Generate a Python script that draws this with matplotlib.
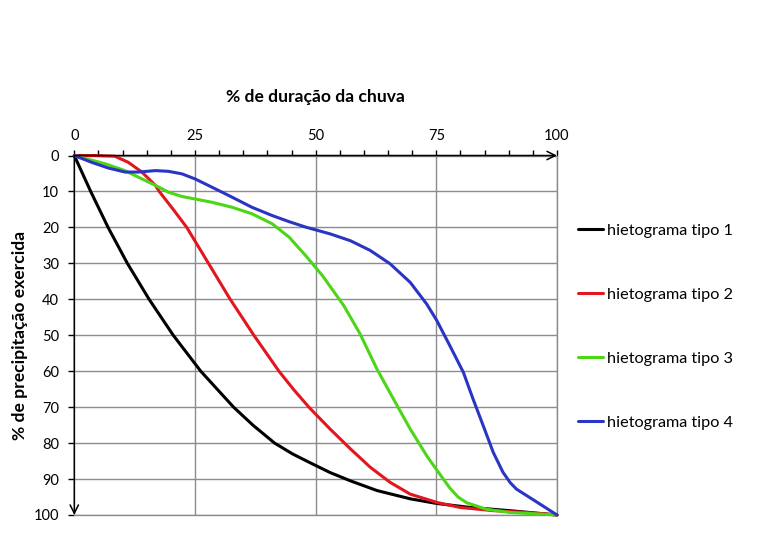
import matplotlib.pyplot as plt
from matplotlib.ticker import MultipleLocator

# % de duração da chuva (x) vs % de precipitação exercida (y)
x_tipo1 = [0, 3.4, 7, 11, 15.5, 20.5, 26.2, 33, 37, 41.5, 45.2, 48.9, 53, 57.2, 62.7, 69.6, 75.1, 82, 90.2, 100]
y_tipo1 = [0, 10, 20, 30, 40, 50, 60, 70, 75, 80, 83, 85.5, 88.2, 90.5, 93.2, 95.5, 96.8, 97.9, 98.8, 100]

x_tipo2 = [0, 4, 8.4, 11.2, 14, 16.8, 17.6, 20.5, 23.3, 27.8, 32.3, 37.2, 42.4, 45.5, 48.6, 53, 57.2,
           61.3, 65.4, 69.6, 75.1, 79.9, 86.8, 93.7, 100]
y_tipo2 = [0, 0, 0.2, 1.9, 4.6, 8.3, 10, 15, 20, 30, 40, 50, 60, 65.2, 70, 76.1, 81.6,
           86.7, 90.9, 94.2, 96.5, 97.9, 98.8, 99.3, 100]

x_tipo3 = [0, 6.4, 10.5, 14, 16.8, 19.5, 22.3, 25, 28.5, 32.7, 36.8, 41, 44.5, 47.9, 51.4, 55.8, 59.2,
           62.7, 66.1, 69.6, 73, 75.1, 77.8, 79.5, 81.3, 85.4, 90.2, 100]
y_tipo3 = [0, 2.3, 4.2, 6.5, 8.3, 10.2, 11.4, 12.1, 13, 14.4, 16.2, 19, 22.7, 27.8, 33.4, 41.7, 49.6,
           59.4, 67.7, 76.1, 83.5, 87.5, 92.5, 95, 96.6, 98.4, 99.3, 100]

x_tipo4 = [0, 3.6, 7.1, 10.5, 13.3, 16.8, 19.5, 22.3, 25, 28.5, 32.7, 36.8, 41, 44.5, 47.9, 53, 57.2,
           61.3, 65.4, 69.6, 73, 75.1, 77.8, 80.6, 82.6, 84.7, 86.8, 88.8, 90.3, 91.6, 95.7, 100]
y_tipo4 = [0, 1.9, 3.5, 4.6, 4.6, 4.2, 4.4, 5.1, 6.5, 8.8, 11.6, 14.4, 16.7, 18.4, 19.9, 21.8, 23.7,
           26.4, 30.1, 35.3, 41.3, 45.9, 52.9, 60.3, 67.7, 75.1, 82.6, 88.1, 91, 92.8, 96.3, 100]

series = [
    ("hietograma tipo 1", x_tipo1, y_tipo1, "#000000"),
    ("hietograma tipo 2", x_tipo2, y_tipo2, "#e3161f"),
    ("hietograma tipo 3", x_tipo3, y_tipo3, "#4cd617"),
    ("hietograma tipo 4", x_tipo4, y_tipo4, "#2a35c4"),
]

plt.rcParams['font.family'] = ['Lato', 'DejaVu Sans']

fig = plt.figure(figsize=(7.65, 5.43), dpi=100)
ax = fig.add_axes([0.0971, 0.0516, 0.631, 0.662])

for name, xs, ys, color in series:
    ax.plot(xs, ys, color=color, lw=2.2, label=name, solid_capstyle='round',
            solid_joinstyle='round', clip_on=False, zorder=3)

ax.set_xlim(0, 100)
ax.set_ylim(100, 0)

ax.xaxis.set_major_locator(MultipleLocator(25))
ax.xaxis.set_minor_locator(MultipleLocator(5))
ax.yaxis.set_major_locator(MultipleLocator(10))
ax.xaxis.tick_top()
ax.tick_params(axis='x', which='both', direction='out', length=4, width=1, pad=5,
               labelsize=10.5, colors='black')
ax.tick_params(axis='y', which='major', direction='out', length=4, width=1, pad=7,
               labelsize=10.5, colors='black')

ax.grid(True, which='major', color='#8c8c8c', lw=1)
ax.set_axisbelow(True)

for side in ['top', 'left']:
    ax.spines[side].set_visible(False)
for side in ['bottom', 'right']:
    ax.spines[side].set_color('#8c8c8c')
    ax.spines[side].set_linewidth(1)

# eixos com setas
arrow = dict(arrowstyle='->,head_length=0.6,head_width=0.3', color='black', lw=1.1,
             shrinkA=0, shrinkB=0)
ax.annotate('', xy=(100, 0), xytext=(0, 0), arrowprops=arrow, annotation_clip=False)
ax.annotate('', xy=(0, 100), xytext=(0, 0), arrowprops=arrow, annotation_clip=False)

fig.text(0.412, 0.821, '% de duração da chuva', ha='center', va='center',
         fontsize=12.6, fontweight='bold')
ax.set_ylabel('% de precipitação exercida', fontsize=12.6, fontweight='bold', labelpad=4)

ax.legend(loc='center left', bbox_to_anchor=(1.03, 0.524), frameon=False, fontsize=11.7,
          handlelength=1.54, handletextpad=0.25, labelspacing=3.05, borderaxespad=0)

fig.savefig('out.png', dpi=100, facecolor='white')
